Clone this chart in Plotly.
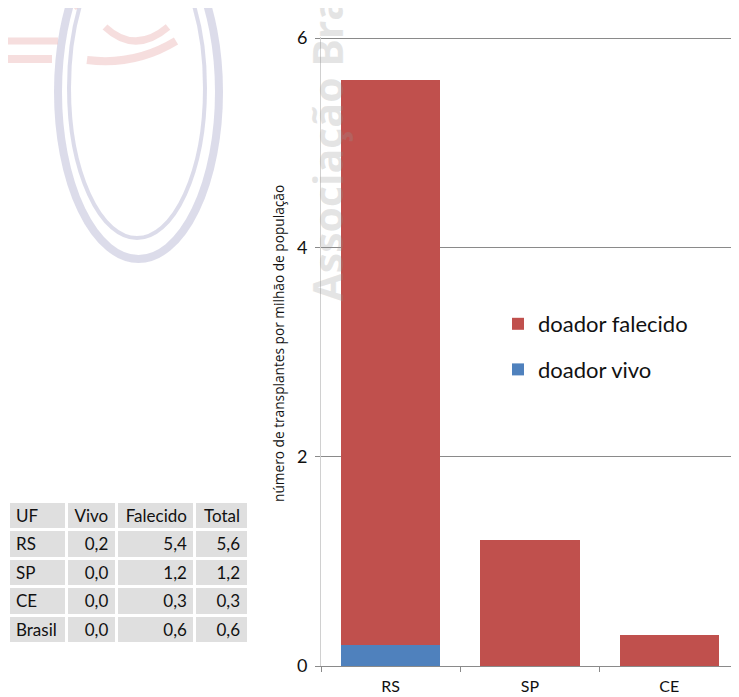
import plotly.graph_objects as go

# ---- data ----
categories = ["RS", "SP", "CE"]
vivo = [0.2, 0.0, 0.0]
falecido = [5.4, 1.2, 0.3]

table_uf = ["RS", "SP", "CE", "Brasil"]
table_vivo = [0.2, 0.0, 0.0, 0.0]
table_falecido = [5.4, 1.2, 0.3, 0.6]
table_total = [5.6, 1.2, 0.3, 0.6]
table_header = ["UF", "Vivo", "Falecido", "Total"]

y_ticks = [0, 2, 4, 6]

# page body has an 8px margin; figure sized so it ends at the window edge
OFF = 8
W, H = 739 - OFF, 697 - OFF
RED = "#C0504D"
BLUE = "#4F81BD"
FONT = "Lato, 'Open Sans', sans-serif"


def px(x):
    return (x - OFF) / W


def py(y):
    return 1 - (y - OFF) / H


def br(v):
    return f"{v:.1f}".replace(".", ",")


fig = go.Figure()

fig.add_trace(go.Bar(
    x=categories, y=vivo, name="doador vivo",
    marker=dict(color=BLUE, line=dict(width=0)),
    legendrank=2, legendgroup="b",
))
fig.add_trace(go.Bar(
    x=categories, y=falecido, name="doador falecido",
    marker=dict(color=RED, line=dict(width=0)),
    legendrank=1, legendgroup="a",
))

fig.add_trace(go.Table(
    domain=dict(x=[px(8), px(248)], y=[py(650), py(501)]),
    columnwidth=[57, 49, 77, 52],
    header=dict(
        values=table_header,
        fill_color="#dfdfdf",
        line=dict(color="white", width=3),
        align=["left", "right", "right", "right"],
        font=dict(family=FONT, size=17, color="#111"),
        height=28.5,
    ),
    cells=dict(
        values=[table_uf,
                [br(v) for v in table_vivo],
                [br(v) for v in table_falecido],
                [br(v) for v in table_total]],
        fill_color="#dfdfdf",
        line=dict(color="white", width=3),
        align=["left", "right", "right", "right"],
        font=dict(family=FONT, size=17, color="#111"),
        height=28.5,
    ),
))

# ---- faint logo watermark (decorative) ----
ring = "rgba(205,205,225,0.7)"
pink = "rgba(238,190,190,0.5)"
shapes = [
    dict(type="circle", xref="paper", yref="paper",
         x0=px(58), x1=px(219), y0=py(259), y1=py(-75),
         line=dict(color=ring, width=8), layer="below"),
    dict(type="circle", xref="paper", yref="paper",
         x0=px(69), x1=px(205), y0=py(238), y1=py(-62),
         line=dict(color=ring, width=4), layer="below"),
    dict(type="line", xref="paper", yref="paper",
         x0=px(0), x1=px(58), y0=py(41), y1=py(41),
         line=dict(color=pink, width=7), layer="below"),
    dict(type="line", xref="paper", yref="paper",
         x0=px(0), x1=px(52), y0=py(59), y1=py(59),
         line=dict(color=pink, width=8), layer="below"),
    dict(type="path", xref="paper", yref="paper",
         path=f"M {px(105)} {py(27)} Q {px(135)} {py(55)} {px(168)} {py(27)}",
         line=dict(color=pink, width=7), layer="below"),
    dict(type="path", xref="paper", yref="paper",
         path=f"M {px(87)} {py(60)} Q {px(135)} {py(66)} {px(176)} {py(41)}",
         line=dict(color=pink, width=8), layer="below"),
    dict(type="path", xref="paper", yref="paper",
         path=f"M {px(68)} {py(-2)} L {px(78)} {py(8)}",
         line=dict(color=pink, width=6), layer="below"),
]

annotations = [
    dict(text="<b>Associação Brasileira</b>", textangle=-90,
         xref="paper", yref="paper", x=px(326), y=py(304),
         xanchor="center", yanchor="bottom", showarrow=False,
         font=dict(family="'Open Sans', sans-serif", size=41,
                   color="rgba(150,150,150,0.25)")),
    dict(text="número de transplantes por milhão de população", textangle=-90,
         xref="paper", yref="paper", x=px(278), y=py(344),
         xanchor="center", yanchor="middle", showarrow=False,
         font=dict(family="'Open Sans', sans-serif", size=13.7, color="#111")),
]

fig.update_layout(
    width=W, height=H,
    margin=dict(l=0, r=0, t=0, b=0, autoexpand=False),
    paper_bgcolor="white", plot_bgcolor="white",
    barmode="stack", bargap=0.286,
    font=dict(family=FONT, color="#111"),
    showlegend=True,
    legend=dict(
        x=px(498), y=py(303), xanchor="left", yanchor="top",
        traceorder="grouped", tracegroupgap=14,
        font=dict(family=FONT, size=22, color="#111"),
        bgcolor="rgba(0,0,0,0)", itemwidth=30,
    ),
    xaxis=dict(
        domain=[px(321), 1.0], automargin=False,
        showline=True, linecolor="#8a8a8a", linewidth=1,
        ticks="outside", tickson="boundaries", ticklen=5, tickcolor="#8a8a8a",
        tickfont=dict(family=FONT, size=16, color="#111"),
        ticklabelstandoff=6,
        showgrid=False, fixedrange=True,
    ),
    yaxis=dict(
        domain=[py(666), py(37)], automargin=False,
        range=[0, 6.01], tickvals=y_ticks, ticktext=[str(t) for t in y_ticks],
        showline=True, linecolor="#d0d0d0", linewidth=1,
        showgrid=True, gridcolor="#8a8a8a", gridwidth=1,
        zeroline=False,
        ticks="outside", ticklen=5, tickcolor="#8a8a8a",
        tickfont=dict(family=FONT, size=18, color="#111"),
        ticklabelstandoff=4,
    ),
    shapes=shapes,
    annotations=annotations,
)

fig.write_html("out.html")
